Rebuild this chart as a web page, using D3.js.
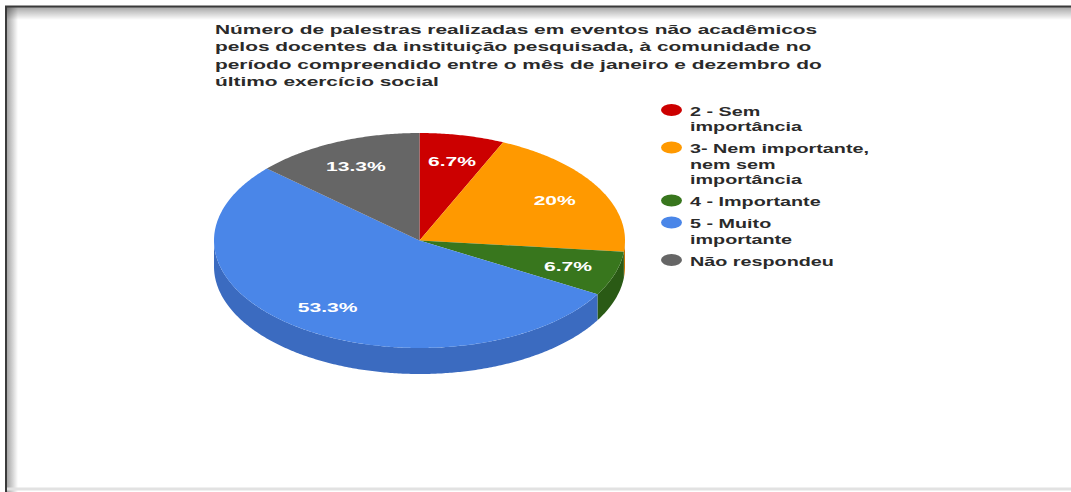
<!DOCTYPE html>
<html>
<head>
<meta charset="utf-8">
<script src="https://cdn.jsdelivr.net/npm/d3@7"></script>
<style>
  body { margin: 0; background: #fff; }
  svg { display: block; font-family: Arial, "Liberation Sans", sans-serif; }
</style>
</head>
<body>
<svg id="chart"></svg>
<script>
`use strict`;

// data
const titleLines = [
  `Número de palestras realizadas em eventos não acadêmicos`,
  `pelos docentes da instituição pesquisada, à comunidade no`,
  `período compreendido entre o mês de janeiro e dezembro do`,
  `último exercício social`
];
const categories = [
  [`2 - Sem`, `importância`],
  [`3- Nem importante,`, `nem sem`, `importância`],
  [`4 - Importante`],
  [`5 - Muito`, `importante`],
  [`Não respondeu`]
];
const counts = [1, 3, 1, 8, 2];
const sliceLabels = [`6.7%`, `20%`, `6.7%`, `53.3%`, `13.3%`];
const topColors = [`#cc0000`, `#ff9900`, `#38761d`, `#4a86e8`, `#666666`];
const sideColors = [`#9c1010`, `#c47400`, `#2a5a15`, `#3b6bc0`, `#4e4e4e`];

(function () {

  const W = 1071, H = 492;

  const svg = d3.select(`#chart`)
    .attr(`width`, W)
    .attr(`height`, H);

  // stretch text sideways like the source picture
  let stretch = (sel, k) => {
    sel.each(function () {
      let len = this.getComputedTextLength();
      d3.select(this)
        .attr(`textLength`, len * k)
        .attr(`lengthAdjust`, `spacingAndGlyphs`);
    });
  };

  /**
  frame with inner shadow
  **/
  let defs = svg.append(`defs`);

  let gTop = defs.append(`linearGradient`).attr(`id`, `shTop`)
    .attr(`x1`, 0).attr(`y1`, 0).attr(`x2`, 0).attr(`y2`, 1);
  gTop.append(`stop`).attr(`offset`, 0).attr(`stop-color`, `#000`).attr(`stop-opacity`, .35);
  gTop.append(`stop`).attr(`offset`, 1).attr(`stop-color`, `#000`).attr(`stop-opacity`, 0);

  let gLeft = defs.append(`linearGradient`).attr(`id`, `shLeft`)
    .attr(`x1`, 0).attr(`y1`, 0).attr(`x2`, 1).attr(`y2`, 0);
  gLeft.append(`stop`).attr(`offset`, 0).attr(`stop-color`, `#000`).attr(`stop-opacity`, .35);
  gLeft.append(`stop`).attr(`offset`, 1).attr(`stop-color`, `#000`).attr(`stop-opacity`, 0);

  svg.append(`rect`).attr(`width`, W).attr(`height`, H).attr(`fill`, `#fff`);

  svg.append(`rect`)
    .attr(`x`, 7).attr(`y`, 7).attr(`width`, W - 7).attr(`height`, 13)
    .attr(`fill`, `url(#shTop)`);
  svg.append(`rect`)
    .attr(`x`, 7).attr(`y`, 7).attr(`width`, 11).attr(`height`, H - 7)
    .attr(`fill`, `url(#shLeft)`);

  svg.append(`path`)
    .attr(`d`, `M6,${H} V6.5 H${W}`)
    .attr(`fill`, `none`)
    .attr(`stroke`, `#3a3a3a`)
    .style(`stroke-width`, 2);

  svg.append(`line`)
    .attr(`x1`, 7).attr(`x2`, W)
    .attr(`y1`, H - 3).attr(`y2`, H - 3)
    .attr(`stroke`, `#e2e2e2`)
    .style(`stroke-width`, 3);

  /**
  title
  **/
  let title = svg.append(`g`).attr(`class`, `title`);

  title.selectAll(`text`).data(titleLines)
    .enter()
    .append(`text`)
    .attr(`x`, 215)
    .attr(`y`, (d, i) => 34 + i * 17.4)
    .style(`font-size`, `12.5px`)
    .attr(`font-weight`, `bold`)
    .style(`fill`, `#2a2a2a`)
    .text(d => d)
    .call(stretch, 1.67);

  /**
  3d pie
  **/
  const cx = 419.5, cy = 240.5, rx = 205.5, ry = 107.5, depth = 26;

  let arcs = d3.pie().sort(null).value(d => d)(counts);

  let pt = (a, r, dy) => [cx + rx * r * Math.sin(a), cy - ry * r * Math.cos(a) + (dy || 0)];

  let edge = (a0, a1, dy) => {
    let n = Math.max(2, Math.ceil((a1 - a0) / 0.01));
    return d3.range(n + 1).map(i => pt(a0 + (a1 - a0) * i / n, 1, dy));
  };

  let line = d3.line();

  let pie = svg.append(`g`).attr(`class`, `pie`);

  // side walls on the front half only
  pie.selectAll(`path.side`).data(arcs)
    .enter()
    .append(`path`)
    .attr(`class`, `side`)
    .attr(`d`, d => {
      let a0 = Math.max(d.startAngle, Math.PI / 2),
          a1 = Math.min(d.endAngle, Math.PI * 1.5);
      if (a1 <= a0) return null;
      let pts = edge(a0, a1, 0).concat(edge(a0, a1, depth).reverse());
      return line(pts) + `Z`;
    })
    .attr(`fill`, (d, i) => sideColors[i]);

  pie.selectAll(`path.top`).data(arcs)
    .enter()
    .append(`path`)
    .attr(`class`, `top`)
    .attr(`d`, d => line([[cx, cy]].concat(edge(d.startAngle, d.endAngle, 0))) + `Z`)
    .attr(`fill`, (d, i) => topColors[i]);

  pie.selectAll(`text`).data(arcs)
    .enter()
    .append(`text`)
    .attr(`x`, d => pt((d.startAngle + d.endAngle) / 2, .76)[0])
    .attr(`y`, d => pt((d.startAngle + d.endAngle) / 2, .76)[1] + 5)
    .attr(`text-anchor`, `middle`)
    .style(`font-size`, `13px`)
    .attr(`font-weight`, `bold`)
    .style(`fill`, `#fff`)
    .text((d, i) => sliceLabels[i])
    .call(stretch, 1.62);

  /**
  legend
  **/
  let legend = svg.append(`g`).attr(`class`, `legend`);

  let lineH = 15.5, gap = 6.5, y = 115.5;
  let rows = categories.map((lines, i) => {
    let row = {lines: lines, y: y, i: i};
    y += lines.length * lineH + gap;
    return row;
  });

  let item = legend.selectAll(`g`).data(rows)
    .enter()
    .append(`g`);

  item.append(`ellipse`)
    .attr(`cx`, 671.5)
    .attr(`cy`, d => d.y - 5.5)
    .attr(`rx`, 10.5)
    .attr(`ry`, 6)
    .attr(`fill`, d => topColors[d.i]);

  item.selectAll(`text`).data(d => d.lines.map((t, k) => ({t: t, y: d.y + k * lineH})))
    .enter()
    .append(`text`)
    .attr(`x`, 690)
    .attr(`y`, d => d.y)
    .style(`font-size`, `13px`)
    .attr(`font-weight`, `bold`)
    .style(`fill`, `#2a2a2a`)
    .text(d => d.t)
    .call(stretch, 1.52);

})();
</script>
</body>
</html>
